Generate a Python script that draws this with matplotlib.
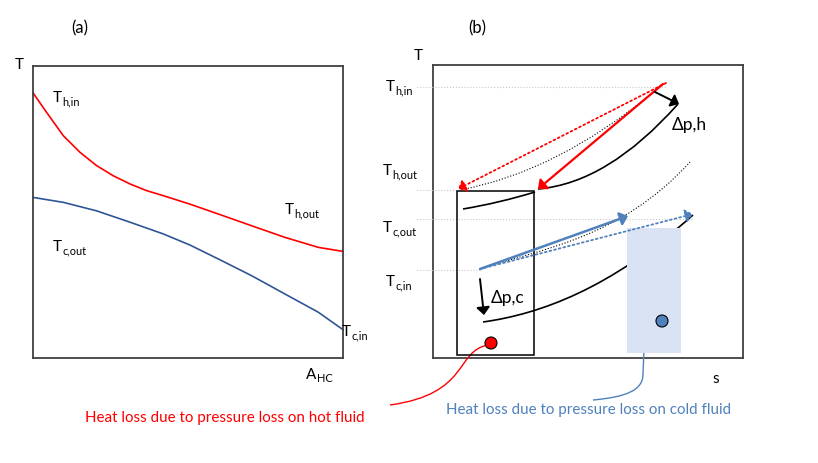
import matplotlib
matplotlib.use("Agg")
import matplotlib.pyplot as plt
from matplotlib.patches import Rectangle, Circle, PathPatch
from matplotlib.path import Path

plt.rcParams['font.family'] = ['Lato', 'DejaVu Sans']

# ---------------- Panel (a) data (normalised area A_HC, temperature T) ----------
a_hot_x = [0.0, 0.044, 0.098, 0.152, 0.205, 0.259, 0.313, 0.367, 0.420, 0.506,
           0.598, 0.705, 0.813, 0.920, 1.0]
a_hot_y = [0.908, 0.841, 0.761, 0.704, 0.659, 0.624, 0.596, 0.573, 0.556, 0.527,
           0.493, 0.453, 0.413, 0.379, 0.365]
a_cold_x = [0.0, 0.098, 0.205, 0.313, 0.420, 0.506, 0.598, 0.705, 0.813, 0.920, 1.0]
a_cold_y = [0.550, 0.533, 0.504, 0.465, 0.425, 0.387, 0.339, 0.282, 0.219, 0.157, 0.097]

# ---------------- Panel (b) schematic (figure pixel coordinates) ---------------
# Bezier control points for each process line
hot_hp = [(655, 92), (557, 173), (460, 191)]                 # dotted black, hot high-p
hot_lp = [(678, 105), (608, 184), (538, 190)]                # solid black, hot low-p
hot_lp2 = [(463, 210), (499, 204), (535, 193)]               # solid black in box
cold_hp = [(480, 270), (540, 250), (620, 240), (690, 163)]   # dotted black, cold high-p
cold_lp = [(483, 323), (540, 315), (610, 290), (693, 216)]   # solid black, cold low-p
ref_levels = {"Th,in": 88, "Th,out": 191, "Tc,out": 220, "Tc,in": 271}
red_lead = [(488, 346), (455, 352), (470, 395), (390, 406)]
blue_lead = [(658, 326), (645, 330), (644, 340), (644, 350), (643, 375),
             (643, 392), (625, 398), (593, 401)]

fig = plt.figure(figsize=(8.18, 4.64), dpi=100)
W, H = 818, 464

def add_frame(x0, y0, x1, y1):
    ax = fig.add_axes([x0 / W, (H - y1) / H, (x1 - x0) / W, (y1 - y0) / H])
    ax.set_xticks([]); ax.set_yticks([])
    for s in ax.spines.values():
        s.set_color('#404040'); s.set_linewidth(1.3)
    return ax

axa = add_frame(33, 67, 343, 359)
axa.set_xlim(0, 1); axa.set_ylim(0, 1)
axa.plot(a_hot_x, a_hot_y, color='#ff0000', lw=1.2, clip_on=False, solid_joinstyle='round')
axa.plot(a_cold_x, a_cold_y, color='#2f5597', lw=1.2, clip_on=False, solid_joinstyle='round')

axb = add_frame(433, 66, 743, 359)

ov = fig.add_axes([0, 0, 1, 1])
ov.set_xlim(0, W); ov.set_ylim(H, 0); ov.axis('off')
ov.patch.set_alpha(0)
renderer = fig.canvas.get_renderer()

def label(x, y, main, sub=None, fs=11, color='black'):
    t = ov.text(x, y, main, fontsize=fs, ha='left', va='center', color=color)
    if sub:
        bb = t.get_window_extent(renderer)
        xr = ov.transData.inverted().transform((bb.x1, bb.y0))[0]
        ov.text(xr + 0.3, y + 3.5, sub, fontsize=fs * 0.72, ha='left', va='center', color=color)

def bezier(pts, codes_kind, **kw):
    if codes_kind == 3:
        codes = [Path.MOVETO, Path.CURVE3, Path.CURVE3]
    elif codes_kind == 4:
        codes = [Path.MOVETO, Path.CURVE4, Path.CURVE4, Path.CURVE4]
    else:
        codes = codes_kind
    ov.add_patch(PathPatch(Path(pts, codes), facecolor='none', **kw))

fs = 11
# panel (a) labels
ov.text(80, 28, "(a)", fontsize=12, ha='center', va='center')
label(15, 65, "T", fs=fs)
label(53, 98, "T", "h,in", fs=fs)
label(285, 210, "T", "h,out", fs=fs)
label(53, 247, "T", "c,out", fs=fs)
label(342, 332, "T", "c,in", fs=fs)
label(306, 375, "A", "HC", fs=fs)

# panel (b) labels
ov.text(477, 28, "(b)", fontsize=12, ha='center', va='center')
label(414, 56, "T", fs=fs)
label(712, 379, "s", fs=fs)
label(386, 87, "T", "h,in", fs=fs)
label(383, 171, "T", "h,out", fs=fs)
label(383, 228, "T", "c,out", fs=fs)
label(386, 282, "T", "c,in", fs=fs)

# reference dotted lines
ov.plot([417, 666], [ref_levels["Th,in"]] * 2, color='#c8c8c8', lw=0.8, ls=':')
ov.plot([417, 458], [ref_levels["Th,out"]] * 2, color='#c8c8c8', lw=0.8, ls=':')
ov.plot([417, 693], [ref_levels["Tc,out"]] * 2, color='#c8c8c8', lw=0.8, ls=':')
ov.plot([417, 480], [ref_levels["Tc,in"]] * 2, color='#c8c8c8', lw=0.8, ls=':')

# black process curves
bezier(hot_hp, 3, edgecolor='black', lw=0.8, ls=':')
bezier(hot_lp, 3, edgecolor='black', lw=1.2)
bezier(hot_lp2, 3, edgecolor='black', lw=1.2)
bezier(cold_hp, 4, edgecolor='black', lw=0.8, ls=':')
bezier(cold_lp, 4, edgecolor='black', lw=1.2)

# shaded cold-loss region (covers part of the lower curve)
ov.add_patch(Rectangle((627, 229), 54, 125, facecolor='#dae3f3', edgecolor='none', zorder=3))
# hot-loss box
ov.add_patch(Rectangle((457, 192), 77, 164, facecolor='none', edgecolor='black', lw=1.1, zorder=3))

def arrow(x0, y0, x1, y1, color, ls='-', lw=1.5, hw=8, hl=9):
    ov.annotate('', xy=(x1, y1), xytext=(x0, y0),
                arrowprops=dict(arrowstyle=f'-|>,head_width={hw/20:.2f},head_length={hl/20:.2f}',
                                color=color, lw=lw, ls=ls, shrinkA=0, shrinkB=0),
                zorder=4)

# red arrows
arrow(666, 84, 458, 190, '#ff0000', ls=':', lw=1.3)
arrow(663, 85, 538, 190, '#ff0000', lw=1.6)
# blue arrows
arrow(480, 270, 628, 217, '#4f81bd', lw=1.8)
arrow(480, 270, 693, 215, '#4f81bd', ls=':', lw=1.3)
# pressure-drop arrows
arrow(655, 93, 679, 105, 'black', lw=1.4)
arrow(480, 280, 484, 316, 'black', lw=1.4)
ov.text(672, 125, "Δp,h", fontsize=12.5, ha='left', va='center')
ov.text(491, 298, "Δp,c", fontsize=12.5, ha='left', va='center')

# markers
ov.add_patch(Circle((491, 344), 6, facecolor='#ff0000', edgecolor='black', lw=0.8, zorder=5))
ov.add_patch(Circle((662, 322), 6, facecolor='#4f81bd', edgecolor='black', lw=0.8, zorder=5))

# leader lines
bezier(red_lead, 4, edgecolor='#ff0000', lw=1.0)
bezier(blue_lead, [Path.MOVETO, Path.CURVE4, Path.CURVE4, Path.CURVE4,
                   Path.LINETO, Path.CURVE4, Path.CURVE4, Path.CURVE4],
       edgecolor='#4f81bd', lw=1.0)

ov.text(225, 418, "Heat loss due to pressure loss on hot fluid", color='#ff0000',
        fontsize=10.9, ha='center', va='center')
ov.text(589, 410, "Heat loss due to pressure loss on cold fluid", color='#4f81bd',
        fontsize=10.9, ha='center', va='center')

fig.savefig("out.png", dpi=100)
